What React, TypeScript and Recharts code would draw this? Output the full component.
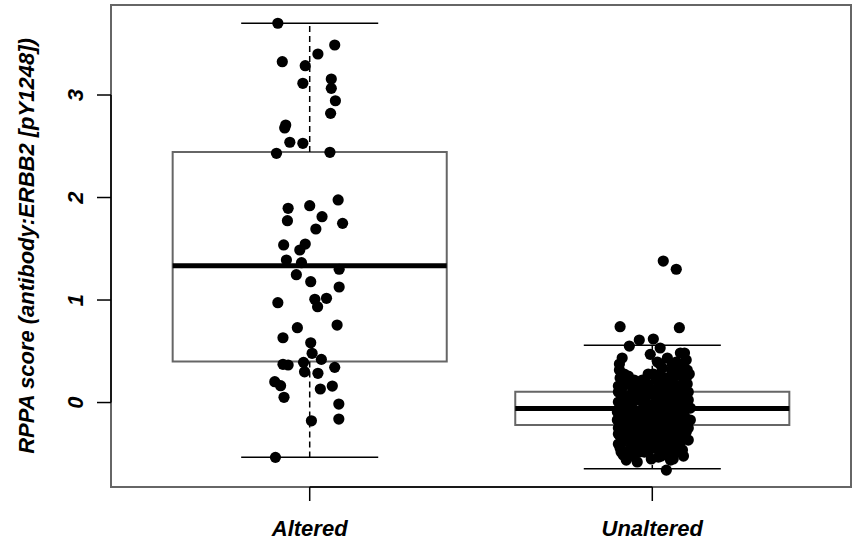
import React from 'react';
import { ScatterChart, Scatter, XAxis, YAxis, ReferenceArea, ReferenceLine } from 'recharts';

const categories = ['Altered', 'Unaltered'];
const categoryPositions = [1, 2];
const yTicks = [0, 1, 2, 3];
const xDomain: [number, number] = [0.42, 2.58];
const yDomain: [number, number] = [-0.824, 3.878];

const q1 = [0.4, -0.22];
const medians = [1.335, -0.057];
const q3 = [2.444, 0.105];
const whiskerLow = [-0.535, -0.646];
const whiskerHigh = [3.7, 0.56];

// [jitter, value]
const alteredPoints: [number, number][] = [
  [-0.093, 3.7], [0.073, 3.488], [0.024, 3.4], [-0.08, 3.325], [-0.013, 3.286],
  [-0.02, 3.114], [0.063, 3.156], [0.063, 3.065], [0.075, 2.944], [0.061, 2.821],
  [-0.07, 2.707], [-0.073, 2.678], [-0.058, 2.539], [-0.02, 2.529], [-0.097, 2.431],
  [0.059, 2.441], [0.083, 1.976], [-0.063, 1.895], [0.0, 1.92], [0.036, 1.813],
  [-0.065, 1.774], [0.096, 1.748], [0.018, 1.693], [-0.076, 1.537], [-0.013, 1.546],
  [-0.029, 1.488], [-0.068, 1.39], [-0.024, 1.364], [0.086, 1.3], [-0.039, 1.247],
  [0.003, 1.179], [0.086, 1.127], [-0.093, 0.974], [0.015, 1.007], [0.049, 1.017],
  [0.023, 0.935], [0.08, 0.756], [-0.036, 0.73], [-0.078, 0.632], [0.003, 0.583],
  [0.007, 0.48], [0.034, 0.421], [-0.018, 0.392], [-0.078, 0.373], [-0.063, 0.366],
  [0.073, 0.343], [-0.015, 0.3], [0.024, 0.285], [-0.102, 0.203], [-0.085, 0.164],
  [0.066, 0.161], [0.031, 0.132], [-0.075, 0.051], [0.085, -0.015], [0.005, -0.178],
  [0.085, -0.161], [-0.1, -0.535],
];

const unalteredPoints: [number, number][] = [
  [0.032, 1.38], [0.07, 1.3], [-0.094, 0.74], [0.079, 0.73],
  [-0.067, 0.551], [-0.038, 0.61], [0.003, 0.62], [0.023, 0.532], [-0.006, 0.47],
  [0.082, 0.483], [0.094, 0.483],
  [-0.088, 0.434], [0.015, 0.395], [0.044, 0.434], [0.07, 0.395], [0.099, 0.415],
  [-0.096, 0.376], [0.023, 0.376], [0.058, 0.376], [0.085, 0.376],
  [-0.096, 0.317], [0.029, 0.337], [0.056, 0.317], [0.079, 0.337], [0.102, 0.317],
  [-0.082, 0.278], [-0.012, 0.278], [0.023, 0.278], [0.082, 0.278], [0.108, 0.278],
  [-0.094, 0.239], [-0.07, 0.259], [0.003, 0.278], [0.041, 0.239], [0.067, 0.259], [0.099, 0.239], [-0.029, 0.22],
  [-0.053, 0.22], [0.012, 0.22], [0.056, 0.22],
  [-0.023, 0.2], [0.029, 0.2], [0.091, 0.2],
  [-0.099, 0.161], [-0.073, 0.18], [-0.05, 0.161], [-0.012, 0.18], [0.018, 0.161], [0.047, 0.18], [0.076, 0.161], [0.102, 0.18],
  [-0.088, 0.141], [-0.038, 0.141], [0.029, 0.141], [0.094, 0.141],
  [-0.029, 0.122], [0.009, 0.122], [0.07, 0.122],
  [-0.099, 0.102], [-0.058, 0.102], [-0.012, 0.102], [0.047, 0.102], [0.105, 0.102],
  [-0.088, 0.083], [-0.061, 0.063], [-0.035, 0.102], [-0.006, 0.083], [0.029, 0.063], [0.058, 0.102], [0.088, 0.083],
  [-0.073, 0.044], [-0.02, 0.044], [0.041, 0.044], [0.076, 0.024],
  [-0.088, 0.024], [-0.041, 0.024], [0.015, 0.024], [0.053, 0.024], [0.105, 0.024],
  [-0.099, 0.005], [-0.076, -0.015], [-0.05, 0.024], [-0.023, 0.005], [0.003, -0.015], [0.032, 0.024], [0.061, 0.005], [0.099, -0.015],
  [-0.061, -0.034], [0.009, -0.034], [0.044, -0.034], [0.082, -0.034],
  [-0.076, -0.054], [-0.026, -0.054], [0.026, -0.054], [0.111, -0.054],
  [-0.088, -0.073], [-0.061, -0.054], [-0.038, -0.093], [-0.009, -0.073], [0.02, -0.054], [0.047, -0.093], [0.076, -0.073], [0.102, -0.054],
  [-0.102, -0.093], [-0.053, -0.093], [0.006, -0.093], [0.058, -0.093],
  [-0.079, -0.112], [0.003, -0.112], [0.029, -0.112], [0.088, -0.112],
  [-0.085, -0.132], [-0.018, -0.132], [0.032, -0.132], [0.094, -0.132],
  [-0.096, -0.151], [-0.07, -0.132], [-0.044, -0.171], [-0.018, -0.151], [0.012, -0.132], [0.038, -0.171], [0.067, -0.151], [0.091, -0.132],
  [-0.102, -0.171], [-0.056, -0.171], [0.009, -0.171], [0.058, -0.171], [0.111, -0.171],
  [-0.07, -0.19], [-0.015, -0.19], [0.041, -0.19], [0.076, -0.19],
  [-0.032, -0.21], [0.035, -0.21], [0.099, -0.21],
  [-0.085, -0.229], [-0.056, -0.249], [-0.029, -0.21], [0.0, -0.229], [0.026, -0.249], [0.056, -0.21], [0.082, -0.229], [0.105, -0.249],
  [-0.099, -0.249], [-0.018, -0.249], [0.053, -0.249],
  [-0.085, -0.268], [-0.015, -0.268], [0.035, -0.268], [0.082, -0.268],
  [-0.044, -0.288], [0.015, -0.288], [0.099, -0.288],
  [-0.099, -0.307], [-0.07, -0.288], [-0.041, -0.327], [-0.015, -0.307], [0.015, -0.288], [0.044, -0.327], [0.07, -0.307], [0.096, -0.288],
  [-0.094, -0.327], [-0.056, -0.327], [-0.006, -0.327], [0.061, -0.327],
  [-0.073, -0.346], [0.003, -0.346], [0.035, -0.346], [0.091, -0.346],
  [-0.026, -0.366], [0.044, -0.366], [0.105, -0.366],
  [-0.088, -0.385], [-0.058, -0.366], [-0.032, -0.405], [-0.003, -0.385], [0.026, -0.366], [0.053, -0.405], [0.082, -0.385],
  [-0.099, -0.405], [0.02, -0.405], [0.073, -0.405],
  [-0.061, -0.424], [-0.012, -0.424], [0.035, -0.424], [0.067, -0.424],
  [-0.053, -0.444], [0.006, -0.444], [0.082, -0.444],
  [-0.094, -0.444], [-0.067, -0.463], [-0.038, -0.483], [-0.009, -0.463], [0.02, -0.444], [0.05, -0.483], [0.088, -0.463],
  [-0.091, -0.483], [-0.023, -0.483], [0.038, -0.483], [0.07, -0.483],
  [-0.058, -0.522], [0.026, -0.522], [0.091, -0.522],
  [-0.076, -0.561], [0.053, -0.561],
  [-0.085, -0.512], [-0.044, -0.58], [-0.003, -0.551], [0.018, -0.532], [0.061, -0.551], [0.041, -0.659],
];

const pointGroups = [alteredPoints, unalteredPoints];

const FONT = '"Liberation Sans", Arial, Helvetica, sans-serif';
const BOX_HALF = 0.4;
const CAP_HALF = 0.2;

const Dot = (props: any) => <circle cx={props.cx} cy={props.cy} r={5.6} fill="#000" />;

const XTick = (props: any) => {
  const { x, y, payload } = props;
  const idx = categoryPositions.indexOf(payload.value);
  return (
    <text x={x} y={y + 33} textAnchor="middle" fontFamily={FONT} fontStyle="italic" fontWeight="bold" fontSize={22} fill="#000">
      {categories[idx]}
    </text>
  );
};

const YTick = (props: any) => {
  const { x, y, payload } = props;
  const tx = x - 12;
  return (
    <text x={tx} y={y} transform={`rotate(-90 ${tx} ${y})`} textAnchor="middle" fontFamily={FONT} fontStyle="italic" fontWeight="bold" fontSize={22} fill="#000">
      {payload.value}
    </text>
  );
};

const YLabel = (props: any) => {
  const vb = props.viewBox || { x: 0, y: 5, width: 111, height: 482 };
  const cx = 34;
  const cy = vb.y + vb.height / 2;
  return (
    <text x={cx} y={cy} transform={`rotate(-90 ${cx} ${cy})`} textAnchor="middle" fontFamily={FONT} fontStyle="italic" fontWeight="bold" fontSize={22} fill="#000">
      RPPA score (antibody:ERBB2 [pY1248])
    </text>
  );
};

export default function App() {
  const data = pointGroups.map((pts, gi) =>
    pts.map(([j, v]) => ({ x: categoryPositions[gi] + j, y: v }))
  );
  return (
    <div style={{ position: 'absolute', left: 0, top: 0, width: 854, height: 544, background: '#fff' }}>
      <ScatterChart width={854} height={544} margin={{ top: 5, right: 3, bottom: 0, left: 0 }}>
        <XAxis
          type="number"
          dataKey="x"
          domain={xDomain}
          ticks={categoryPositions}
          allowDataOverflow
          height={57}
          tickSize={14}
          axisLine={false}
          tickLine={{ stroke: '#000', strokeWidth: 1.5 }}
          tick={<XTick />}
          interval={0}
        />
        <YAxis
          type="number"
          dataKey="y"
          domain={yDomain}
          ticks={yTicks}
          allowDataOverflow
          width={111}
          tickSize={14}
          axisLine={false}
          tickLine={{ stroke: '#000', strokeWidth: 1.5 }}
          tick={<YTick />}
          interval={0}
          label={<YLabel />}
        />
        <ReferenceArea x1={xDomain[0]} x2={xDomain[1]} y1={yDomain[0]} y2={yDomain[1]} fill="none" stroke="#666" strokeWidth={2} ifOverflow="visible" />
        <ReferenceLine segment={[{ x: xDomain[0], y: yTicks[0] }, { x: xDomain[0], y: yTicks[yTicks.length - 1] }]} stroke="#000" strokeWidth={1.5} ifOverflow="visible" />
        <ReferenceLine segment={[{ x: categoryPositions[0], y: yDomain[0] }, { x: categoryPositions[1], y: yDomain[0] }]} stroke="#000" strokeWidth={1.5} ifOverflow="visible" />
        {categoryPositions.map((c, i) => (
          <ReferenceArea key={`box${i}`} x1={c - BOX_HALF} x2={c + BOX_HALF} y1={q1[i]} y2={q3[i]} fill="#fff" fillOpacity={1} stroke="#666" strokeWidth={2} ifOverflow="visible" />
        ))}
        {categoryPositions.map((c, i) => (
          <ReferenceLine key={`wu${i}`} segment={[{ x: c, y: q3[i] }, { x: c, y: whiskerHigh[i] }]} stroke="#000" strokeWidth={1.5} strokeDasharray="6 4" ifOverflow="visible" />
        ))}
        {categoryPositions.map((c, i) => (
          <ReferenceLine key={`wl${i}`} segment={[{ x: c, y: q1[i] }, { x: c, y: whiskerLow[i] }]} stroke="#000" strokeWidth={1.5} strokeDasharray="6 4" ifOverflow="visible" />
        ))}
        {categoryPositions.map((c, i) => (
          <ReferenceLine key={`cu${i}`} segment={[{ x: c - CAP_HALF, y: whiskerHigh[i] }, { x: c + CAP_HALF, y: whiskerHigh[i] }]} stroke="#000" strokeWidth={1.5} ifOverflow="visible" />
        ))}
        {categoryPositions.map((c, i) => (
          <ReferenceLine key={`cl${i}`} segment={[{ x: c - CAP_HALF, y: whiskerLow[i] }, { x: c + CAP_HALF, y: whiskerLow[i] }]} stroke="#000" strokeWidth={1.5} ifOverflow="visible" />
        ))}
        {categoryPositions.map((c, i) => (
          <ReferenceLine key={`md${i}`} segment={[{ x: c - BOX_HALF, y: medians[i] }, { x: c + BOX_HALF, y: medians[i] }]} stroke="#000" strokeWidth={5} ifOverflow="visible" />
        ))}
        {data.map((d, i) => (
          <Scatter key={`s${i}`} name={categories[i]} data={d} shape={<Dot />} isAnimationActive={false} />
        ))}
      </ScatterChart>
    </div>
  );
}
